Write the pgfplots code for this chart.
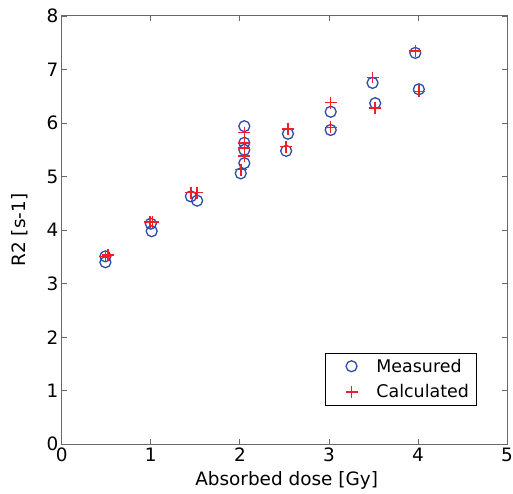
\documentclass[border=0pt]{standalone}
\usepackage{pgfplots}
\pgfplotsset{compat=1.18}
\usepackage{fontspec}
\setmainfont{DejaVu Sans}
\definecolor{mblue}{RGB}{45,75,170}
\definecolor{mred}{RGB}{240,30,40}
\definecolor{axgray}{RGB}{105,105,105}
\newcommand\f{\fontsize{18.5}{22}\selectfont}
\newcommand\lf{\fontsize{17.5}{21}\selectfont}
\begin{document}
\begin{tikzpicture}[x=1pt,y=1pt]
\begin{axis}[
  at={(0,0)}, anchor=south west,
  scale only axis, width=447pt, height=430pt,
  xmin=0, xmax=5, ymin=0, ymax=8,
  xtick={0,1,2,3,4,5}, ytick={0,1,...,8},
  tick align=inside, xtick pos=both, ytick pos=both,
  major tick length=5pt,
  axis line style={axgray, line width=0.9pt},
  every tick/.style={axgray, line width=0.8pt},
  /pgf/number format/assume math mode=true,
  tick label style={font=\f, text=black},
  xlabel={Absorbed dose [Gy]}, ylabel={R2 [s-1]},
  label style={font=\f},
  xlabel style={at={(axis description cs:0.505,-0.0953)}, anchor=base},
  ylabel style={at={(axis description cs:-0.094,0.5)}, anchor=center, rotate=0},
  legend style={at={(rel axis cs:0.592,0.214)}, anchor=north west,
    draw=black, line width=0.6pt, font=\lf, inner xsep=1pt, inner ysep=5pt,
    nodes={inner xsep=6pt, inner ysep=1pt}, row sep=9pt, cells={anchor=west}},
  legend image code/.code={\path[draw=none,fill=none] (0pt,0pt) rectangle (44pt,0.1pt); \draw[#1] plot coordinates {(25pt,0pt)};},
]
\addplot[only marks, mark=o, mark size=5.5pt, mblue, line width=1.3pt] coordinates {
(0.49,3.51) (0.49,3.40) (1.00,4.12) (1.01,3.98) (1.45,4.63) (1.52,4.55)
(2.01,5.06) (2.05,5.94) (2.05,5.63) (2.05,5.50) (2.05,5.25)
(2.52,5.48) (2.54,5.80) (3.02,6.21) (3.02,5.87) (3.49,6.75) (3.52,6.37)
(3.97,7.31) (4.01,6.63)
};
\addlegendentry{Measured}
\addplot[only marks, mark=+, mark size=6pt, mred, line width=1.6pt] coordinates {
(0.49,3.51) (0.52,3.53) (0.99,4.15) (1.02,4.15) (1.45,4.70) (1.52,4.70)
(2.01,5.13) (2.05,5.82) (2.05,5.63) (2.05,5.53) (2.05,5.38)
(2.52,5.56) (2.54,5.89) (3.02,6.38) (3.02,5.92) (3.49,6.85) (3.52,6.28)
(3.97,7.35) (4.01,6.59)
};
\addlegendentry{Calculated}
\end{axis}
\pgfresetboundingbox
\path[use as bounding box] (-62pt,-49pt) rectangle (453pt,446pt);
\end{tikzpicture}
\end{document}
